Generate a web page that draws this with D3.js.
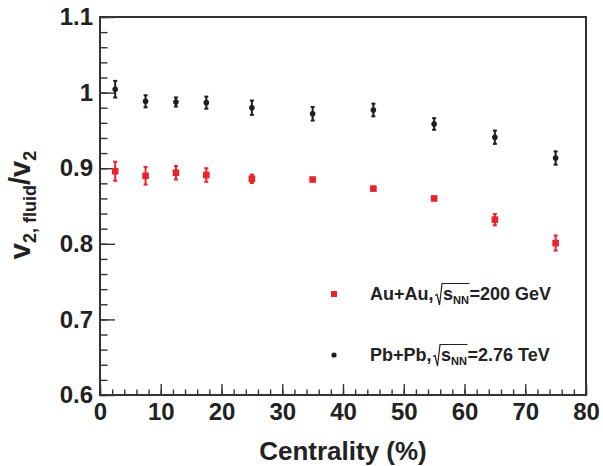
<!DOCTYPE html>
<html>
<head>
<meta charset="utf-8">
<script src="https://cdn.jsdelivr.net/npm/d3@7"></script>
<style>
  body { margin: 0; background: #fff; }
  text { font-family: "Liberation Sans", Arial, Helvetica, sans-serif; font-weight: bold; fill: #222; }
</style>
</head>
<body>
<div class="chart"></div>
<script>
// centrality bins (%)
var centrality = [2.5, 7.5, 12.5, 17.5, 25, 35, 45, 55, 65, 75];
// Au+Au 200 GeV
var auau = [0.896, 0.890, 0.894, 0.891, 0.886, 0.885, 0.873, 0.860, 0.832, 0.801];
var auauErr = [0.0126, 0.0117, 0.009, 0.009, 0.0055, 0.002, 0.002, 0.002, 0.0075, 0.010];
// Pb+Pb 2.76 TeV
var pbpb = [1.0045, 0.9885, 0.9876, 0.9867, 0.980, 0.972, 0.977, 0.9585, 0.941, 0.9135];
var pbpbErr = [0.011, 0.008, 0.006, 0.008, 0.0095, 0.009, 0.0084, 0.0077, 0.0088, 0.0088];

var xTicks = [0, 10, 20, 30, 40, 50, 60, 70, 80];
var yTicks = [0.6, 0.7, 0.8, 0.9, 1, 1.1];

var width = 603, height = 466,
    margin = { top: 17, right: 17, bottom: 71, left: 100 };

var svg = d3.select(".chart").append("svg")
    .attr("width", width)
    .attr("height", height);

var x = d3.scaleLinear().domain([0, 80]).range([margin.left, width - margin.right]);
var y = d3.scaleLinear().domain([0.6, 1.1]).range([height - margin.bottom, margin.top]);

var axisColor = "#333";

// minor ticks first
svg.append("g")
    .attr("transform", `translate(0,${y(0.6)})`)
    .call(d3.axisBottom(x).tickValues(d3.range(0, 81, 2)).tickSize(-5.5).tickFormat(""))
    .call(g => g.select(".domain").remove())
    .call(g => g.selectAll("line").attr("stroke", axisColor).attr("stroke-width", 1.4));

svg.append("g")
    .attr("transform", `translate(${x(0)},0)`)
    .call(d3.axisLeft(y).tickValues(d3.range(0, 26).map(i => 0.6 + i * 0.02)).tickSize(-7.5).tickFormat(""))
    .call(g => g.select(".domain").remove())
    .call(g => g.selectAll("line").attr("stroke", axisColor).attr("stroke-width", 1.4));

// major ticks + labels
svg.append("g")
    .attr("transform", `translate(0,${y(0.6)})`)
    .call(d3.axisBottom(x).tickValues(xTicks).tickSize(-11).tickPadding(8).tickFormat(d3.format("d")))
    .call(g => g.select(".domain").remove())
    .call(g => g.selectAll("line").attr("stroke", axisColor).attr("stroke-width", 1.4))
    .call(g => g.selectAll("text").attr("font-size", 24).attr("font-family", null).attr("fill", "#222"));

svg.append("g")
    .attr("transform", `translate(${x(0)},0)`)
    .call(d3.axisLeft(y).tickValues(yTicks).tickSize(-15).tickPadding(7).tickFormat(d => d === 1 ? "1" : d3.format(".1f")(d)))
    .call(g => g.select(".domain").remove())
    .call(g => g.selectAll("line").attr("stroke", axisColor).attr("stroke-width", 1.4))
    .call(g => g.selectAll("text").attr("font-size", 24).attr("font-family", null).attr("fill", "#222"));

// frame
svg.append("rect")
    .attr("x", x(0)).attr("y", y(1.1))
    .attr("width", x(80) - x(0)).attr("height", y(0.6) - y(1.1))
    .attr("fill", "none").attr("stroke", axisColor).attr("stroke-width", 2);

// axis titles
svg.append("text")
    .attr("x", (x(0) + x(80)) / 2)
    .attr("y", 460)
    .attr("text-anchor", "middle")
    .attr("font-size", 26)
    .text("Centrality (%)");

var yt = svg.append("text")
    .attr("transform", "translate(30," + 205 + ") rotate(-90)")
    .attr("text-anchor", "middle")
    .attr("font-size", 29);
yt.append("tspan").text("v");
yt.append("tspan").attr("font-size", 18).attr("dy", 6).text("2, fluid");
yt.append("tspan").attr("dy", -6).text("/v");
yt.append("tspan").attr("font-size", 18).attr("dy", 6).text("2");

// data series
function series(vals, errs, color, shape) {
    var pts = centrality.map((c, i) => ({ c: c, v: vals[i], e: errs[i] }));
    var g = svg.append("g").attr("stroke", color).attr("fill", color);
    g.selectAll("line.err").data(pts).enter().append("line")
        .attr("class", "err")
        .attr("x1", d => x(d.c)).attr("x2", d => x(d.c))
        .attr("y1", d => y(d.v - d.e)).attr("y2", d => y(d.v + d.e))
        .attr("stroke-width", 2);
    g.selectAll("line.caplo").data(pts).enter().append("line")
        .attr("x1", d => x(d.c) - 2).attr("x2", d => x(d.c) + 2)
        .attr("y1", d => y(d.v - d.e)).attr("y2", d => y(d.v - d.e))
        .attr("stroke-width", 2);
    g.selectAll("line.caphi").data(pts).enter().append("line")
        .attr("x1", d => x(d.c) - 2).attr("x2", d => x(d.c) + 2)
        .attr("y1", d => y(d.v + d.e)).attr("y2", d => y(d.v + d.e))
        .attr("stroke-width", 2);
    if (shape === "square") {
        g.selectAll("rect").data(pts).enter().append("rect")
            .attr("x", d => x(d.c) - 3.3).attr("y", d => y(d.v) - 3.3)
            .attr("width", 6.6).attr("height", 6.6).attr("stroke", "none");
    } else {
        g.selectAll("circle").data(pts).enter().append("circle")
            .attr("cx", d => x(d.c)).attr("cy", d => y(d.v))
            .attr("r", 2.8).attr("stroke", "none");
    }
}

var red = "#e8232a", black = "#1e1e1e";
series(auau, auauErr, red, "square");
series(pbpb, pbpbErr, black, "circle");

// legend
function legendEntry(ly, pre, post) {
    var lg = svg.append("g");
    var tx = 370;
    var t1 = lg.append("text").attr("x", tx).attr("y", ly).attr("font-size", 18).text(pre);
    var rx = tx + t1.node().getComputedTextLength() + 1.5;
    var t2 = lg.append("text").attr("x", rx + 8).attr("y", ly).attr("font-size", 18).text("s");
    var sx = rx + 8 + t2.node().getComputedTextLength();
    var t3 = lg.append("text").attr("x", sx).attr("y", ly + 4).attr("font-size", 11).text("NN");
    var ex = sx + t3.node().getComputedTextLength();
    lg.append("path")
        .attr("d", `M${rx},${ly - 4} L${rx + 2},${ly - 5} L${rx + 4.5},${ly + 5.5} L${rx + 7},${ly - 16} L${ex + 0.5},${ly - 16}`)
        .attr("fill", "none").attr("stroke", "#222").attr("stroke-width", 1.2);
    lg.append("text").attr("x", ex + 0.5).attr("y", ly).attr("font-size", 18).text(post);
}

svg.append("rect").attr("x", 331).attr("y", 291).attr("width", 6).attr("height", 6).attr("fill", red);
legendEntry(299.5, "Au+Au,", "=200 GeV");
svg.append("circle").attr("cx", 334).attr("cy", 355).attr("r", 2.6).attr("fill", black);
legendEntry(360.5, "Pb+Pb,", "=2.76 TeV");
</script>
</body>
</html>
